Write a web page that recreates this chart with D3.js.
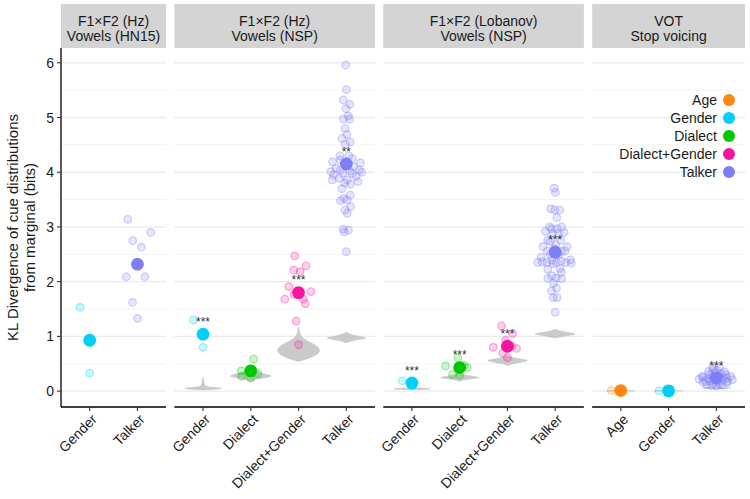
<!DOCTYPE html>
<html><head><meta charset="utf-8">
<script src="https://cdn.jsdelivr.net/npm/d3@7"></script>
<style>body{margin:0;background:#fff}svg{display:block;font-family:"Liberation Sans",Arial,sans-serif}</style>
</head><body><svg id="c" width="750" height="499"></svg>
<script>
// ---------------- data ----------------
const panelTitles = [["F1×F2 (Hz)","Vowels (HN15)"],["F1×F2 (Hz)","Vowels (NSP)"],["F1×F2 (Lobanov)","Vowels (NSP)"],["VOT","Stop voicing"]];
const panelCategories = [["Gender","Talker"],["Gender","Dialect","Dialect+Gender","Talker"],["Gender","Dialect","Dialect+Gender","Talker"],["Age","Gender","Talker"]];
const panelMeans = [[0.93,2.32],[1.04,0.37,1.80,4.15],[0.15,0.43,0.82,2.54],[0.01,0.005,0.24]];
const panelStars = [["",""],["***","","***","**"],["***","***","***","***"],["","","***"]];
const legendGroups = ["Age","Gender","Dialect","Dialect+Gender","Talker"];
const groupColors = ["#ff870f","#00cff7","#00c800","#f5139f","#7e7ef7"];
const yTicks = [0,1,2,3,4,5,6];
const yMinorTicks = [0.5,1.5,2.5,3.5,4.5,5.5];

const pointsHN15 = [
  [1.53,0.33],
  [3.14,2.90,2.75,2.63,2.09,2.09,1.62,1.33]
];
const pointsNSPHz = [
  [1.30,0.80],
  [0.585,0.37,0.27,0.24,0.32],
  [2.47,2.29,2.21,2.18,1.91,1.82,1.77,1.68,1.68,1.60,1.28,0.85],
  [5.96,5.51,5.32,5.24,5.16,5.03,4.97,4.97,4.80,4.69,4.62,4.55,4.51,4.30,4.30,4.25,4.22,4.19,4.19,4.17,4.13,4.10,4.07,4.04,4.04,4.02,4.01,4.00,3.98,3.98,3.95,3.92,3.89,3.86,3.86,3.83,3.80,3.78,3.70,3.58,3.52,3.49,3.48,3.37,3.31,3.25,2.96,2.94,2.91,2.55]
];
const pointsNSPLob = [
  [0.19,0.14],
  [0.61,0.47,0.46,0.43,0.30,0.29],
  [1.19,1.05,0.93,0.82,0.80,0.78,0.70,0.61],
  [3.71,3.63,3.33,3.31,3.31,3.17,3.00,3.00,2.97,2.97,2.92,2.90,2.88,2.88,2.76,2.76,2.73,2.68,2.64,2.64,2.60,2.56,2.56,2.56,2.50,2.48,2.45,2.40,2.39,2.38,2.36,2.35,2.35,2.35,2.35,2.34,2.33,2.24,2.23,2.17,2.11,2.07,2.06,2.05,1.97,1.88,1.83,1.71,1.71,1.44]
];
const pointsVOT = [
  [0.012,0.01],
  [0.008,0.005],
  [0.44,0.43,0.40,0.38,0.36,0.35,0.33,0.32,0.31,0.30,0.29,0.28,0.27,0.27,0.26,0.25,0.25,0.24,0.23,0.23,0.22,0.21,0.20,0.20,0.19,0.18,0.18,0.17,0.16,0.15,0.14,0.13,0.12,0.11,0.10,0.09]
];
const panelPoints = [pointsHN15, pointsNSPHz, pointsNSPLob, pointsVOT];

// null-distribution violins: [value, relative density]
const violinsHN15 = [null, null];
const violinsNSPHz = [
  [[0.02,0],[0.035,0.6],[0.05,1],[0.065,0.5],[0.08,0.15],[0.12,0.06],[0.18,0.03],[0.26,0]],
  [[0.18,0],[0.22,0.3],[0.26,0.9],[0.28,1],[0.31,0.7],[0.35,0.3],[0.42,0.08],[0.47,0]],
  [[0.54,0],[0.58,0.35],[0.65,0.8],[0.72,1],[0.80,0.95],[0.88,0.6],[0.95,0.25],[1.02,0.08],[1.10,0.04],[1.18,0]],
  [[0.88,0],[0.92,0.25],[0.95,0.7],[0.97,1],[1.00,0.6],[1.03,0.2],[1.08,0]]
];
const violinsNSPLob = [
  [[0.02,0],[0.03,0.5],[0.04,1],[0.05,0.5],[0.07,0]],
  [[0.18,0],[0.21,0.2],[0.23,0.7],[0.25,1],[0.27,0.6],[0.30,0.2],[0.33,0]],
  [[0.47,0],[0.51,0.3],[0.54,0.8],[0.56,1],[0.58,0.7],[0.61,0.3],[0.65,0]],
  [[0.97,0],[1.00,0.3],[1.03,0.9],[1.05,1],[1.07,0.6],[1.10,0.2],[1.13,0]]
];
const violinsVOT = [
  [[-0.005,0],[0.005,1],[0.015,0]],
  [[-0.005,0],[0.005,1],[0.015,0]],
  [[0.04,0],[0.055,1],[0.07,0]]
];
const panelViolins = [violinsHN15, violinsNSPHz, violinsNSPLob, violinsVOT];

// ---------------- layout ----------------
const svg = d3.select("#c");
const plotLeft = 61, plotRight = 745, gap = 8.3, stripTop = 4, stripBottom = 48, plotBottom = 407;
const units = panelCategories.map(c => c.length - 1 + 1.2);
const unitPx = (plotRight - plotLeft - gap*(panelCategories.length-1)) / d3.sum(units);
const y = d3.scaleLinear().domain([-0.29, 6.27]).range([plotBottom, stripBottom]);
const wScale = d3.scaleLinear().domain([0,1]).range([0, 21.5]);
const colorOf = d3.scaleOrdinal().domain(legendGroups).range(groupColors);

// quasirandom (van der Corput scaled by kernel density) offsets, in category units
function vdc(i){ let r=0, f=0.5; while(i>0){ r += f*(i&1); i >>= 1; f/=2; } return r; }
function quasirandom(vals, width) {
  const n = vals.length;
  const sd = n>1 ? d3.deviation(vals) : 0;
  const sorted = vals.slice().sort(d3.ascending);
  const iqr = n>1 ? d3.quantileSorted(sorted,0.75)-d3.quantileSorted(sorted,0.25) : 0;
  let lo = Math.min(sd, iqr/1.34); if (!(lo>0)) lo = sd || Math.abs(sorted[0]) || 1;
  const bw = 0.9*lo*Math.pow(n,-0.2)*0.5;
  const dens = v => d3.sum(vals, u => Math.exp(-0.5*((v-u)/bw)**2));
  const grid = d3.range(0,201).map(k => sorted[0]-3*bw + (sorted[n-1]-sorted[0]+6*bw)*k/200);
  const maxD = d3.max(grid, dens);
  const ranks = vals.map((v,i)=>i).sort((a,b)=>vals[a]-vals[b] || a-b);
  const off = new Array(n);
  ranks.forEach((idx, r) => { off[idx] = (vdc(r+1)-0.5)*2*width*(dens(vals[idx])/maxD); });
  return off;
}

// y axis title
const title = svg.append("text").attr("transform",`translate(17.5,${(stripBottom+plotBottom)/2}) rotate(-90)`)
  .attr("text-anchor","middle").attr("font-size",15).attr("fill","#1a1a1a");
title.append("tspan").attr("x",0).attr("dy",0).text("KL Divergence of cue distributions");
title.append("tspan").attr("x",0).attr("dy",17.5).text("from marginal (bits)");

let x0 = plotLeft;
panelCategories.forEach((cats, pi) => {
  const w = units[pi]*unitPx;
  const x = d3.scalePoint().domain(cats).range([x0, x0+w]).padding(0.6);
  const g = svg.append("g");
  // strip
  g.append("rect").attr("x",x0).attr("y",stripTop).attr("width",w).attr("height",stripBottom-stripTop).attr("fill","#d4d4d4");
  g.append("text").attr("x",x0+w/2).attr("y",25.5).attr("text-anchor","middle").attr("font-size",14).attr("fill","#1a1a1a").text(panelTitles[pi][0]);
  g.append("text").attr("x",x0+w/2).attr("y",40.5).attr("text-anchor","middle").attr("font-size",14).attr("fill","#1a1a1a").text(panelTitles[pi][1]);
  // grid
  g.selectAll(".gmin").data(yMinorTicks).join("line").attr("x1",x0).attr("x2",x0+w)
    .attr("y1",d=>y(d)).attr("y2",d=>y(d)).attr("stroke","#f2f2f2").attr("stroke-width",1);
  g.selectAll(".gmaj").data(yTicks).join("line").attr("x1",x0).attr("x2",x0+w)
    .attr("y1",d=>y(d)).attr("y2",d=>y(d)).attr("stroke","#ebebeb").attr("stroke-width",1.3);
  // violins
  cats.forEach((c,ci) => {
    const v = panelViolins[pi][ci]; if (!v) return;
    const cx = x(c);
    const area = d3.area().curve(d3.curveBasis).y(d=>y(d[0])).x0(d=>cx - wScale(d[1])).x1(d=>cx + wScale(d[1]));
    g.append("path").attr("d",area(v)).attr("fill","#bdbdbd").attr("fill-opacity",0.8)
      .attr("stroke","#bdbdbd").attr("stroke-opacity",0.6).attr("stroke-width",0.8);
  });
  // individual points
  cats.forEach((c,ci) => {
    const vals = panelPoints[pi][ci];
    const off = quasirandom(vals, 0.4*unitPx);
    const col = colorOf(c);
    g.selectAll(null).data(vals).join("circle")
      .attr("cx",(d,i)=>x(c)+off[i]).attr("cy",d=>y(d)).attr("r",3.8)
      .attr("fill",col).attr("fill-opacity",0.2).attr("stroke",col).attr("stroke-opacity",0.35).attr("stroke-width",1.2);
  });
  // means
  g.selectAll(".mean").data(cats).join("circle").attr("cx",d=>x(d)).attr("cy",(d,i)=>y(panelMeans[pi][i]))
    .attr("r",6.4).attr("fill",d=>colorOf(d));
  // stars
  g.selectAll(".star").data(cats).join("text").attr("x",d=>x(d)).attr("y",(d,i)=>y(panelMeans[pi][i]+0.28)+7)
    .attr("text-anchor","middle").attr("font-size",12).attr("fill","#333").text((d,i)=>panelStars[pi][i]);
  // x axis
  g.append("line").attr("x1",x0).attr("x2",x0+w).attr("y1",plotBottom).attr("y2",plotBottom).attr("stroke","#000").attr("stroke-width",1.3);
  g.selectAll(".tk").data(cats).join("line").attr("x1",d=>x(d)).attr("x2",d=>x(d)).attr("y1",plotBottom).attr("y2",plotBottom+4).attr("stroke","#333").attr("stroke-width",1.1);
  g.selectAll(".tl").data(cats).join("text").attr("transform",d=>`translate(${x(d)+1},${plotBottom+6}) rotate(-45)`)
    .attr("text-anchor","end").attr("dy","0.72em").attr("font-size",14).attr("fill","#1a1a1a").text(d=>d);
  // legend in last panel
  if (pi === panelCategories.length-1) {
    const lx = x0 + w - 16;
    legendGroups.forEach((lg,li) => {
      const ly = 100 + li*18;
      g.append("circle").attr("cx",lx).attr("cy",ly).attr("r",6).attr("fill",colorOf(lg));
      g.append("text").attr("x",lx-12).attr("y",ly+5).attr("text-anchor","end").attr("font-size",14).attr("fill","#1a1a1a").text(lg);
    });
  }
  x0 += w + gap;
});

// y axis
svg.append("line").attr("x1",plotLeft).attr("x2",plotLeft).attr("y1",stripBottom).attr("y2",plotBottom).attr("stroke","#000").attr("stroke-width",1.3);
svg.selectAll(".ytk").data(yTicks).join("line").attr("x1",plotLeft-4).attr("x2",plotLeft).attr("y1",d=>y(d)).attr("y2",d=>y(d)).attr("stroke","#333").attr("stroke-width",1.1);
svg.selectAll(".ytl").data(yTicks).join("text").attr("x",plotLeft-7).attr("y",d=>y(d)+5).attr("text-anchor","end")
  .attr("font-size",14).attr("fill","#1a1a1a").text(d=>d);
</script></body></html>
